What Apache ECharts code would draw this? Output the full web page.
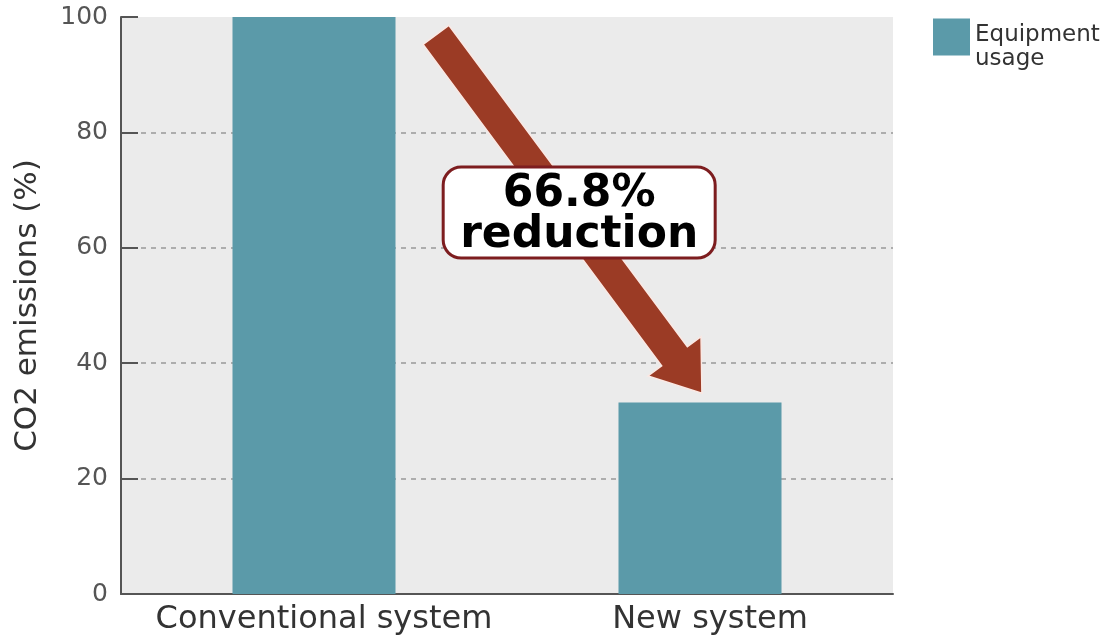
<!DOCTYPE html>
<html><head><meta charset="utf-8">
<script src="https://cdn.jsdelivr.net/npm/echarts@6/dist/echarts.min.js"></script>
<style>html,body{margin:0;padding:0;background:#fff}#c{width:1117px;height:641px}</style>
</head><body><div id="c"></div>
<script>
const categories = ['Conventional system', 'New system'];
const seriesName = 'Equipment usage';
const values = [100, 33.2];
const yTicks = [0, 20, 40, 60, 80, 100];
const reduction = ((1 - values[1] / values[0]) * 100).toFixed(1);
// annotation anchors in data space: [category position, value]
const arrowTail = [0.316, 96.9];
const arrowTip = [1.005, 34.8];
const calloutAt = [0.687, 66.1];

const chart = echarts.init(document.getElementById('c'));
const FONT = 'DejaVu Sans';
chart.setOption({
  animation: false,
  grid: { left: 121, right: 224, top: 17, bottom: 47, show: true, backgroundColor: '#ebebeb', borderWidth: 0 },
  legend: {
    data: [seriesName], left: 928, top: 3, orient: 'vertical',
    icon: 'rect', itemWidth: 37, itemHeight: 37, itemGap: 8,
    formatter: n => '{s| }\n' + n.split(' ').map(w => '{a|' + w + '}').join('\n'),
    textStyle: { fontFamily: FONT, fontSize: 23, color: '#333',
      rich: { a: { fontFamily: FONT, fontSize: 23, color: '#333', lineHeight: 24 },
              s: { fontSize: 10, lineHeight: 20 } } }
  },
  xAxis: {
    type: 'category', data: categories,
    axisLine: { lineStyle: { color: '#555', width: 2 } },
    axisTick: { show: false },
    axisLabel: { interval: 0, fontFamily: FONT, fontSize: 32, color: '#333', margin: 10, padding: [0, 0, 0, 20] }
  },
  yAxis: {
    type: 'value', min: 0, max: 100, interval: 20,
    name: 'CO2 emissions (%)', nameLocation: 'middle', nameGap: 78,
    nameTextStyle: { fontFamily: FONT, fontSize: 31, color: '#333' },
    axisLine: { show: true, lineStyle: { color: '#555', width: 2 } },
    axisTick: { show: true, inside: true, length: 17, lineStyle: { color: '#555', width: 2 } },
    axisLabel: { fontFamily: FONT, fontSize: 25, color: '#555', margin: 13,
      formatter: v => yTicks.includes(v) ? String(v) : '' },
    splitLine: { show: true, lineStyle: {
      color: ['rgba(0,0,0,0)', '#999', '#999', '#999', '#999', 'rgba(0,0,0,0)'],
      type: [5, 5], width: 1.5 } }
  },
  series: [{
    name: seriesName, type: 'bar', data: values, barWidth: 163,
    itemStyle: { color: '#5b9aa9' }
  }]
});

function toPx(p) {
  const a = chart.convertToPixel({ gridIndex: 0 }, [0, p[1]]);
  const b = chart.convertToPixel({ gridIndex: 0 }, [1, p[1]]);
  return [a[0] + (b[0] - a[0]) * p[0], a[1]];
}
const T = toPx(arrowTail), P = toPx(arrowTip), C = toPx(calloutAt);
const dx = P[0] - T[0], dy = P[1] - T[1], L = Math.hypot(dx, dy);
const ux = dx / L, uy = dy / L, nx = -uy, ny = ux;
const sw = 16, hw = 33, hl = 46;
const B = [P[0] - ux * hl, P[1] - uy * hl];
const pts = [
  [T[0] + nx * sw, T[1] + ny * sw],
  [B[0] + nx * sw, B[1] + ny * sw],
  [B[0] + nx * hw, B[1] + ny * hw],
  P,
  [B[0] - nx * hw, B[1] - ny * hw],
  [B[0] - nx * sw, B[1] - ny * sw],
  [T[0] - nx * sw, T[1] - ny * sw]
];
const bw = 272, bh = 91;
chart.setOption({
  graphic: [
    { type: 'polygon', z: 100, shape: { points: pts }, style: { fill: '#9b3b25', stroke: '#fbe9e4', lineWidth: 1.5 } },
    { type: 'rect', z: 101, shape: { x: C[0] - bw / 2, y: C[1] - bh / 2, width: bw, height: bh, r: 18 },
      style: { fill: '#fff', stroke: '#7d1d1f', lineWidth: 3 } },
    { type: 'text', z: 102, x: C[0], y: C[1] + 2,
      style: { text: reduction + '%\nreduction', fill: '#000', font: 'bold 44px "DejaVu Sans"',
        align: 'center', verticalAlign: 'middle', lineHeight: 41 } }
  ]
});
</script></body></html>
